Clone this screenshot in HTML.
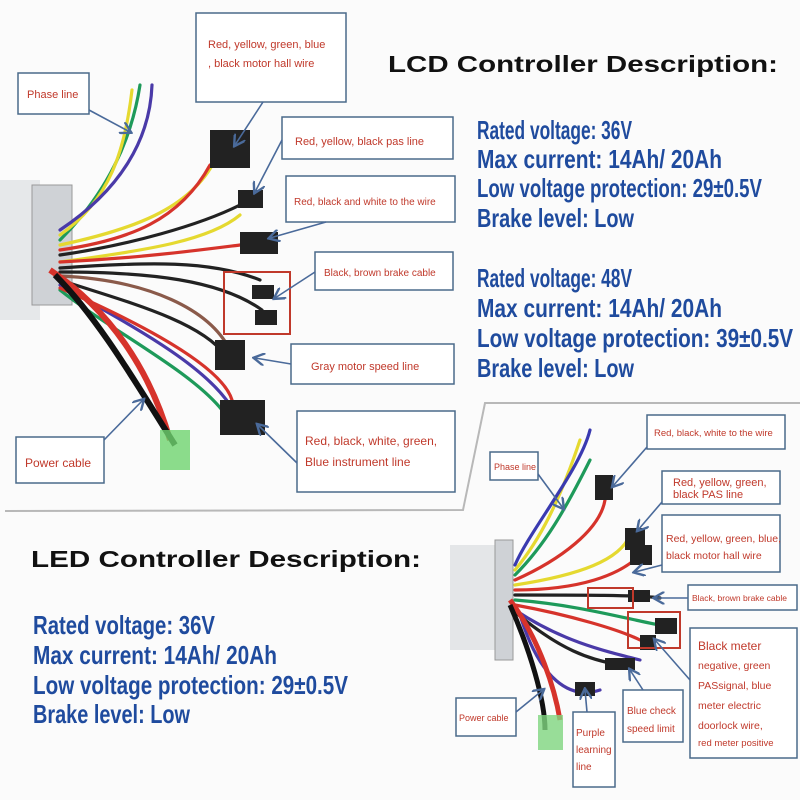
<!DOCTYPE html>
<html><head><meta charset="utf-8"><style>
html,body{margin:0;padding:0;background:#fff}
svg{display:block}
.lbl{font-family:"Liberation Sans",sans-serif;fill:#c0392b;font-size:11px}
.box{fill:#fff;stroke:#4a6a8a;stroke-width:1.5}
.arr{stroke:#4a6a9a;stroke-width:1.6;fill:none;marker-end:url(#ah)}
.h{font-family:"Liberation Sans",sans-serif;font-weight:bold;font-size:23px;fill:#111}
.b{font-family:"Liberation Sans",sans-serif;font-weight:bold;font-size:26px;fill:#1f4b9e}
.w{fill:none;stroke-width:3.2;stroke-linecap:round}
.con{fill:#222}
</style></head><body>
<svg width="800" height="800" viewBox="0 0 800 800" xmlns="http://www.w3.org/2000/svg">
<defs><marker id="ah" markerWidth="8" markerHeight="8" refX="6" refY="4" orient="auto"><path d="M0,0 L7,4 L0,8" fill="none" stroke="#4a6a9a" stroke-width="1.5"/></marker></defs>
<rect width="800" height="800" fill="#fbfbfb"/>
<!-- top-left controller -->
<rect x="0" y="180" width="40" height="140" fill="#e6e8ea"/>
<rect x="32" y="185" width="40" height="120" fill="#cfd2d6" stroke="#999"/>
<g>
<path class="w" stroke="#1e9a5a" d="M60,240 C100,200 130,150 140,85"/>
<path class="w" stroke="#e5d930" d="M60,235 C110,200 125,150 132,90"/>
<path class="w" stroke="#4a3aa8" d="M60,230 C120,190 150,140 152,85"/>
<path class="w" stroke="#e5d930" d="M60,245 C130,230 190,210 215,160"/>
<path class="w" stroke="#d6332b" d="M60,250 C130,240 180,220 210,165"/>
<path class="w" stroke="#222" d="M60,255 C130,245 200,225 240,205"/>
<path class="w" stroke="#e5d930" d="M60,262 C150,250 210,240 240,215"/>
<path class="w" stroke="#d6332b" d="M60,262 C140,258 200,250 240,245"/>
<path class="w" stroke="#222" d="M60,268 C150,262 210,260 260,280"/>
<path class="w" stroke="#222" d="M60,272 C150,272 220,280 262,310"/>
<path class="w" stroke="#8a5a4a" d="M60,276 C150,280 210,310 230,350"/>
<path class="w" stroke="#222" d="M60,280 C120,300 200,320 225,355"/>
<path class="w" stroke="#4a3aa8" d="M60,285 C120,320 200,360 230,405"/>
<path class="w" stroke="#1e9a5a" d="M60,290 C110,330 190,370 222,410"/>
<path class="w" stroke="#d6332b" d="M60,288 C110,310 220,360 232,400"/>
<path stroke="#d6332b" stroke-width="6" fill="none" d="M50,270 C110,310 150,370 170,440"/>
<path stroke="#111" stroke-width="6" fill="none" d="M55,275 C100,320 140,390 175,445"/>
</g>
<rect x="160" y="430" width="30" height="40" fill="#6fd46f" opacity=".8"/>
<rect x="210" y="130" width="40" height="38" class="con"/>
<rect x="238" y="190" width="25" height="18" class="con"/>
<rect x="240" y="232" width="38" height="22" class="con"/>
<rect x="252" y="285" width="22" height="14" class="con"/>
<rect x="255" y="310" width="22" height="15" class="con"/>
<rect x="215" y="340" width="30" height="30" class="con"/>
<rect x="220" y="400" width="45" height="35" class="con"/>
<rect x="224" y="272" width="66" height="62" fill="none" stroke="#c0392b" stroke-width="2"/>
<!-- top-left labels -->
<rect class="box" x="196" y="13" width="150" height="89"/>
<text class="lbl" x="208" y="48">Red, yellow, green, blue</text>
<text class="lbl" x="208" y="67">, black motor hall wire</text>
<path class="arr" d="M263,102 L235,145"/>
<rect class="box" x="18" y="73" width="71" height="41"/>
<text class="lbl" x="27" y="98">Phase line</text>
<path class="arr" d="M89,110 L130,132"/>
<rect class="box" x="282" y="117" width="171" height="42"/>
<text class="lbl" x="295" y="145">Red, yellow, black pas line</text>
<path class="arr" d="M282,140 L255,192"/>
<rect class="box" x="286" y="176" width="169" height="46"/>
<text class="lbl" x="294" y="205" style="font-size:10px">Red, black and white to the wire</text>
<path class="arr" d="M326,222 L270,238"/>
<rect class="box" x="315" y="252" width="138" height="38"/>
<text class="lbl" x="324" y="276" style="font-size:10px">Black, brown brake cable</text>
<path class="arr" d="M315,272 L275,298"/>
<rect class="box" x="291" y="344" width="163" height="40"/>
<text class="lbl" x="311" y="370">Gray motor speed line</text>
<path class="arr" d="M291,364 L255,358"/>
<rect class="box" x="297" y="411" width="158" height="81"/>
<text class="lbl" x="305" y="445" style="font-size:12px">Red, black, white, green,</text>
<text class="lbl" x="305" y="466" style="font-size:12px">Blue instrument line</text>
<path class="arr" d="M297,463 L258,425"/>
<rect class="box" x="16" y="437" width="88" height="46"/>
<text class="lbl" x="25" y="467" style="font-size:12px">Power cable</text>
<path class="arr" d="M104,440 L143,400"/>
<!-- LCD text -->
<text class="h" x="388" y="72" textLength="390" lengthAdjust="spacingAndGlyphs">LCD Controller Description:</text>
<g class="b">
<text x="477" y="139" textLength="155" lengthAdjust="spacingAndGlyphs">Rated voltage: 36V</text>
<text x="477" y="168" textLength="245" lengthAdjust="spacingAndGlyphs">Max current: 14Ah/ 20Ah</text>
<text x="477" y="197" textLength="285" lengthAdjust="spacingAndGlyphs">Low voltage protection: 29±0.5V</text>
<text x="477" y="227" textLength="157" lengthAdjust="spacingAndGlyphs">Brake level: Low</text>
<text x="477" y="287" textLength="155" lengthAdjust="spacingAndGlyphs">Rated voltage: 48V</text>
<text x="477" y="317" textLength="245" lengthAdjust="spacingAndGlyphs">Max current: 14Ah/ 20Ah</text>
<text x="477" y="347" textLength="316" lengthAdjust="spacingAndGlyphs">Low voltage protection: 39±0.5V</text>
<text x="477" y="377" textLength="157" lengthAdjust="spacingAndGlyphs">Brake level: Low</text>
</g>
<!-- panel border -->
<path d="M800,403 L485,403 L463,510 L5,511" fill="none" stroke="#b8b8b8" stroke-width="2"/>
<!-- LED text -->
<text class="h" x="31" y="567" textLength="390" lengthAdjust="spacingAndGlyphs">LED Controller Description:</text>
<g class="b">
<text x="33" y="634" textLength="182" lengthAdjust="spacingAndGlyphs">Rated voltage: 36V</text>
<text x="33" y="664" textLength="244" lengthAdjust="spacingAndGlyphs">Max current: 14Ah/ 20Ah</text>
<text x="33" y="694" textLength="315" lengthAdjust="spacingAndGlyphs">Low voltage protection: 29±0.5V</text>
<text x="33" y="723" textLength="157" lengthAdjust="spacingAndGlyphs">Brake level: Low</text>
</g>
<!-- bottom-right controller -->
<rect x="450" y="545" width="55" height="105" fill="#e4e6e8"/>
<rect x="495" y="540" width="18" height="120" fill="#cfd2d6" stroke="#999"/>
<g>
<path class="w" stroke="#e5d930" d="M515,570 C540,540 560,500 580,440"/>
<path class="w" stroke="#1e9a5a" d="M515,575 C545,545 565,510 590,460"/>
<path class="w" stroke="#3a3ab0" d="M515,565 C530,530 580,470 590,430"/>
<path class="w" stroke="#d6332b" d="M515,580 C560,560 600,530 605,500"/>
<path class="w" stroke="#e5d930" d="M515,585 C580,575 620,560 630,535"/>
<path class="w" stroke="#d6332b" d="M515,590 C580,590 620,575 640,555"/>
<path class="w" stroke="#222" d="M515,595 C580,595 640,595 660,598"/>
<path class="w" stroke="#1e9a5a" d="M515,600 C580,605 630,620 660,625"/>
<path class="w" stroke="#d6332b" d="M515,605 C570,615 620,630 640,640"/>
<path class="w" stroke="#4a3aa8" d="M515,610 C560,640 600,650 640,660"/>
<path class="w" stroke="#222" d="M515,612 C560,650 590,660 620,665"/>
<path class="w" stroke="#4a3aa8" d="M520,615 C540,680 570,700 600,690"/>
<path stroke="#d6332b" stroke-width="5" fill="none" d="M510,600 C540,640 555,690 560,720"/>
<path stroke="#111" stroke-width="5" fill="none" d="M510,605 C530,650 545,700 545,730"/>
</g>
<rect x="595" y="475" width="18" height="25" class="con"/>
<rect x="625" y="528" width="20" height="22" class="con"/>
<rect x="630" y="545" width="22" height="20" class="con"/>
<rect x="628" y="590" width="22" height="12" class="con"/>
<rect x="655" y="618" width="22" height="16" class="con"/>
<rect x="640" y="635" width="16" height="15" class="con"/>
<rect x="605" y="658" width="30" height="12" class="con"/>
<rect x="575" y="682" width="20" height="14" class="con"/>
<rect x="538" y="715" width="25" height="35" fill="#7fd67f" opacity=".8"/>
<rect x="588" y="588" width="45" height="20" fill="none" stroke="#c0392b" stroke-width="2"/>
<rect x="628" y="612" width="52" height="36" fill="none" stroke="#c0392b" stroke-width="2"/>
<!-- bottom-right labels -->
<rect class="box" x="647" y="415" width="138" height="34"/>
<text class="lbl" x="654" y="436" style="font-size:9.5px">Red, black, white to the wire</text>
<path class="arr" d="M647,447 L613,486"/>
<rect class="box" x="490" y="452" width="48" height="28"/>
<text class="lbl" x="494" y="470" style="font-size:9px">Phase line</text>
<path class="arr" d="M538,474 L563,508"/>
<rect class="box" x="662" y="471" width="118" height="33"/>
<text class="lbl" x="673" y="486">Red, yellow, green,</text>
<text class="lbl" x="673" y="498">black PAS line</text>
<path class="arr" d="M662,502 L638,530"/>
<rect class="box" x="662" y="515" width="118" height="57"/>
<text class="lbl" x="666" y="542" style="font-size:10.5px">Red, yellow, green, blue,</text>
<text class="lbl" x="666" y="559" style="font-size:10.5px">black motor hall wire</text>
<path class="arr" d="M662,565 L635,572"/>
<rect class="box" x="688" y="585" width="109" height="25"/>
<text class="lbl" x="692" y="601" style="font-size:8.5px">Black, brown brake cable</text>
<path class="arr" d="M688,598 L655,598"/>
<rect class="box" x="690" y="628" width="107" height="130"/>
<text class="lbl" x="698" y="650" style="font-size:12px">Black meter</text>
<text class="lbl" x="698" y="669" style="font-size:10.5px">negative, green</text>
<text class="lbl" x="698" y="689" style="font-size:10.5px">PASsignal, blue</text>
<text class="lbl" x="698" y="709" style="font-size:10.5px">meter electric</text>
<text class="lbl" x="698" y="729" style="font-size:10.5px">doorlock wire,</text>
<text class="lbl" x="698" y="746" style="font-size:9.5px">red meter positive</text>
<path class="arr" d="M690,680 L655,640"/>
<rect class="box" x="623" y="690" width="60" height="52"/>
<text class="lbl" x="627" y="714" style="font-size:10px">Blue check</text>
<text class="lbl" x="627" y="732" style="font-size:10px">speed limit</text>
<path class="arr" d="M643,690 L630,670"/>
<rect class="box" x="573" y="712" width="42" height="75"/>
<text class="lbl" x="576" y="736" style="font-size:10px">Purple</text>
<text class="lbl" x="576" y="753" style="font-size:10px">learning</text>
<text class="lbl" x="576" y="770" style="font-size:10px">line</text>
<path class="arr" d="M587,712 L585,690"/>
<rect class="box" x="456" y="698" width="60" height="38"/>
<text class="lbl" x="459" y="721" style="font-size:9px">Power cable</text>
<path class="arr" d="M516,712 L543,690"/>
</svg>
</body></html>
